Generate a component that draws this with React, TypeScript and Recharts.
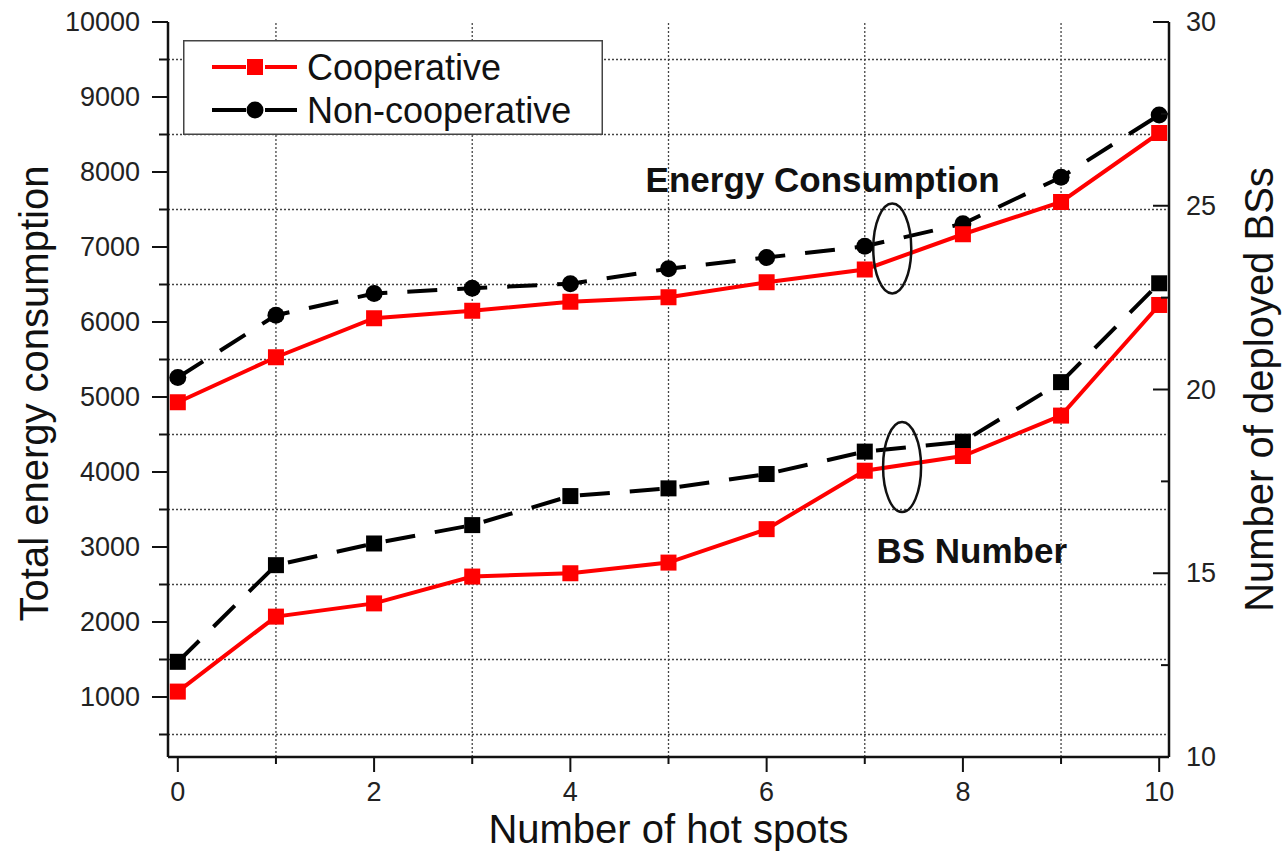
import {
  ComposedChart,
  Legend,
  Line,
  ReferenceDot,
  ReferenceLine,
  XAxis,
  YAxis,
} from "recharts";

const FONT = "'Liberation Sans', Arial, sans-serif";

// x: number of hot spots
const hotSpots = [0, 1, 2, 3, 4, 5, 6, 7, 8, 9, 10];

// left axis: total energy consumption
const energyCooperative = [4930, 5530, 6050, 6150, 6270, 6330, 6530, 6700, 7170, 7600, 8520];
const energyNonCooperative = [5260, 6090, 6380, 6450, 6510, 6710, 6860, 7010, 7310, 7930, 8760];

// right axis: number of deployed BSs
const bsCooperative = [11.78, 13.82, 14.18, 14.91, 15.0, 15.29, 16.2, 17.79, 18.19, 19.29, 22.3];
const bsNonCooperative = [12.59, 15.22, 15.81, 16.31, 17.1, 17.31, 17.7, 18.31, 18.58, 20.2, 22.89];

const leftTicks = [500, 1000, 1500, 2000, 2500, 3000, 3500, 4000, 4500, 5000, 5500, 6000, 6500, 7000, 7500, 8000, 8500, 9000, 9500, 10000];
const rightTicks = [10, 12.5, 15, 17.5, 20, 22.5, 25, 27.5, 30];
const energyGrid = [500, 1500, 2500, 3500, 4500, 5500, 6500, 7500, 8500, 9500];
const hotSpotGrid = [1, 3, 5, 7, 9];

const legendItems = [
  { label: "Cooperative", color: "#ff0000", marker: "square" },
  { label: "Non-cooperative", color: "#000000", marker: "circle" },
];

const rows = hotSpots.map((h, i) => ({
  x: h,
  ec: energyCooperative[i],
  en: energyNonCooperative[i],
  bc: bsCooperative[i],
  bn: bsNonCooperative[i],
}));

const LeftTick = ({ x, y, payload }: any) => {
  const major = payload.value % 1000 === 0;
  return (
    <g>
      <line x1={x} x2={x - (major ? 16 : 9)} y1={y} y2={y} stroke="#111" strokeWidth={2} />
      {major ? (
        <text x={x - 28} y={y} textAnchor="end" dominantBaseline="central" fontSize={27} fill="#222" fontFamily={FONT}>
          {payload.value}
        </text>
      ) : null}
    </g>
  );
};

const RightTick = ({ x, y, payload }: any) => {
  const major = payload.value % 5 === 0;
  return (
    <g>
      <line x1={x} x2={x - (major ? 16 : 8)} y1={y} y2={y} stroke="#111" strokeWidth={2} />
      {major ? (
        <text x={x + 17} y={y} textAnchor="start" dominantBaseline="central" fontSize={27} fill="#222" fontFamily={FONT}>
          {payload.value}
        </text>
      ) : null}
    </g>
  );
};

const BottomTick = ({ x, y, payload }: any) => {
  const major = payload.value % 2 === 0;
  return (
    <g>
      <line x1={x} x2={x} y1={y} y2={y + (major ? 15 : 7)} stroke="#111" strokeWidth={2} />
      {major ? (
        <text x={x} y={y + 35} textAnchor="middle" dominantBaseline="central" fontSize={27} fill="#222" fontFamily={FONT}>
          {payload.value}
        </text>
      ) : null}
    </g>
  );
};

const squareDot = (color: string) => (p: any) => (
  <rect key={`sq-${color}-${p.index}`} x={p.cx - 8} y={p.cy - 8} width={16} height={16} fill={color} />
);

const circleDot = (p: any) => (
  <circle key={`c-${p.index}`} cx={p.cx} cy={p.cy} r={8.5} fill="#000" />
);

const LegendBox = () => (
  <svg width={420} height={95}>
    <rect x={0.75} y={0.75} width={418.5} height={93.5} fill="#fff" stroke="#444" strokeWidth={1.5} />
    {legendItems.map((item, i) => {
      const cy = 27 + i * 43;
      return (
        <g key={item.label}>
          <line x1={29} x2={63} y1={cy} y2={cy} stroke={item.color} strokeWidth={4} />
          <line x1={82} x2={114} y1={cy} y2={cy} stroke={item.color} strokeWidth={4} />
          {item.marker === "square" ? (
            <rect x={64} y={cy - 8} width={16} height={16} fill={item.color} />
          ) : (
            <circle cx={72} cy={cy} r={8.5} fill={item.color} />
          )}
          <text x={124} y={cy} dominantBaseline="central" fontSize={36} fill="#111" fontFamily={FONT}>
            {item.label}
          </text>
        </g>
      );
    })}
  </svg>
);

const ellipseShape = (p: any) => (
  <ellipse cx={p.cx} cy={p.cy} rx={19} ry={45} fill="none" stroke="#111" strokeWidth={2.5} />
);

const noteShape = (text: string) => (p: any) => (
  <text x={p.cx} y={p.cy} textAnchor="middle" fontSize={35} fontWeight="bold" fill="#111" fontFamily={FONT}>
    {text}
  </text>
);

const LeftTitle = ({ viewBox }: any) => {
  const cx = viewBox.x + 34;
  const cy = viewBox.y + viewBox.height / 2 + 4;
  return (
    <text x={cx} y={cy} transform={`rotate(-90, ${cx}, ${cy})`} textAnchor="middle" dominantBaseline="central" fontSize={40} fill="#111" fontFamily={FONT}>
      Total energy consumption
    </text>
  );
};

const RightTitle = ({ viewBox }: any) => {
  const cx = viewBox.x + 90;
  const cy = viewBox.y + viewBox.height / 2;
  return (
    <text x={cx} y={cy} transform={`rotate(-90, ${cx}, ${cy})`} textAnchor="middle" dominantBaseline="central" fontSize={40} fill="#111" fontFamily={FONT}>
      Number of deployed BSs
    </text>
  );
};

const BottomTitle = ({ viewBox }: any) => (
  <text x={viewBox.x + viewBox.width / 2} y={viewBox.y + 72} textAnchor="middle" dominantBaseline="central" fontSize={40} fill="#111" fontFamily={FONT}>
    Number of hot spots
  </text>
);

export default function App() {
  return (
    <div style={{ position: "absolute", left: 0, top: 0, background: "#fff" }}>
      <ComposedChart width={1282} height={851} data={rows} margin={{ top: 22, right: 0, bottom: 0, left: 0 }}>
        <XAxis
          dataKey="x"
          type="number"
          domain={[-0.1, 10.1]}
          allowDataOverflow
          ticks={hotSpots}
          interval={0}
          height={94}
          tickSize={0}
          tickMargin={0}
          tickLine={false}
          tick={<BottomTick />}
          axisLine={{ stroke: "#111", strokeWidth: 2.5 }}
          label={<BottomTitle />}
        />
        <XAxis
          xAxisId="top"
          orientation="top"
          dataKey="x"
          type="number"
          domain={[-0.1, 10.1]}
          allowDataOverflow
          height={0}
          tick={false}
          tickLine={false}
          axisLine={{ stroke: "#111", strokeWidth: 2.5 }}
        />
        <YAxis
          yAxisId="left"
          type="number"
          domain={[200, 10000]}
          allowDataOverflow
          ticks={leftTicks}
          interval={0}
          width={168}
          tickSize={0}
          tickMargin={0}
          tickLine={false}
          tick={<LeftTick />}
          axisLine={{ stroke: "#111", strokeWidth: 2.5 }}
          label={<LeftTitle />}
        />
        <YAxis
          yAxisId="right"
          orientation="right"
          type="number"
          domain={[10, 30]}
          allowDataOverflow
          ticks={rightTicks}
          interval={0}
          width={113}
          tickSize={0}
          tickMargin={0}
          tickLine={false}
          tick={<RightTick />}
          axisLine={{ stroke: "#111", strokeWidth: 2.5 }}
          label={<RightTitle />}
        />
        {energyGrid.map((v) => (
          <ReferenceLine key={`h${v}`} yAxisId="left" y={v} stroke="#444" strokeWidth={1.3} strokeDasharray="2 2" />
        ))}
        {hotSpotGrid.map((v) => (
          <ReferenceLine key={`v${v}`} yAxisId="left" x={v} stroke="#444" strokeWidth={1.3} strokeDasharray="2 2" />
        ))}
        <Line yAxisId="left" dataKey="en" stroke="#000" strokeWidth={4} strokeDasharray="30 20" dot={circleDot} isAnimationActive={false} />
        <Line yAxisId="left" dataKey="ec" stroke="#ff0000" strokeWidth={4} dot={squareDot("#ff0000")} isAnimationActive={false} />
        <Line yAxisId="right" dataKey="bn" stroke="#000" strokeWidth={4} strokeDasharray="30 20" dot={squareDot("#000")} isAnimationActive={false} />
        <Line yAxisId="right" dataKey="bc" stroke="#ff0000" strokeWidth={4} dot={squareDot("#ff0000")} isAnimationActive={false} />
        <ReferenceDot yAxisId="left" x={7.28} y={6980} shape={ellipseShape} />
        <ReferenceDot yAxisId="right" x={7.38} y={17.89} shape={ellipseShape} />
        <ReferenceDot yAxisId="left" x={6.57} y={7730} shape={noteShape("Energy Consumption")} />
        <ReferenceDot yAxisId="right" x={8.09} y={15.28} shape={noteShape("BS Number")} />
        <Legend
          layout="horizontal"
          verticalAlign="middle"
          align="center"
          content={<LegendBox />}
          wrapperStyle={{ position: "absolute", left: 183, top: 40, width: 420, height: 95 }}
        />
      </ComposedChart>
    </div>
  );
}
